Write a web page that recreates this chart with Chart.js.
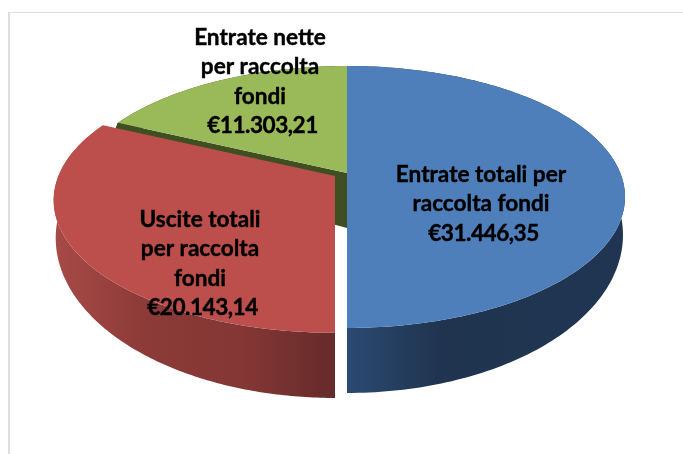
<!DOCTYPE html>
<html>
<head>
<meta charset="utf-8">
<style>
html,body{margin:0;padding:0;background:#fff;}
#wrap{position:absolute;left:0;top:0;width:683px;height:454px;}
</style>
<script src="https://cdn.jsdelivr.net/npm/chart.js@4"></script>
</head>
<body>
<div id="wrap"><canvas id="c" width="683" height="454"></canvas></div>
<script>
const categories = ['Entrate totali per raccolta fondi', 'Uscite totali per raccolta fondi', 'Entrate nette per raccolta fondi'];
const values = [31446.35, 20143.14, 11303.21];
const labelLines = [
  ['Entrate totali per', 'raccolta fondi'],
  ['Uscite totali', 'per raccolta', 'fondi'],
  ['Entrate nette', 'per raccolta', 'fondi']
];
const topColors = ['#4f7fbb', '#bc4f4c', '#9aba59'];
const wallStops = [
  ['#2b4a72', '#20344f', '#1f3550', '#1f3552'],
  ['#a84a47', '#8b3a37', '#843735', '#652b2a'],
  ['#3f4f22', '#3f4f22', '#3f4f22', '#3f4f22']
];

// layout constants of the 3D look: top rim and bottom rim projections
const TOP = { k: 0.183, a: 273.3, b: 126.6, dy: 0 };
const BOTTOM = { k: 0.044, a: 275.7, b: 157.7, dy: 55 };
const OFFSETS = [[0, 0], [-12, 3], [0, 0]]; // exploded slice offset
const SCALES = [1, 1.012, 1];
const LABEL_POS = [[481, 182], [200, 227], [260, 45]];
const LINE_H = 29.3;

function euro(v) {
  const parts = v.toFixed(2).split('.');
  return '€' + parts[0].replace(/\B(?=(\d{3})+$)/g, '.') + ',' + parts[1];
}

const pie3d = {
  id: 'pie3d',
  beforeDatasetsDraw(chart) {
    const ctx = chart.ctx;
    const arcs = chart.getDatasetMeta(0).data;
    const cx = arcs[0].x, cy = arcs[0].y;
    const proj = (a, P, o, s) => {
      const X = Math.cos(a), Y = Math.sin(a), w = 1 - P.k * Y;
      return [cx + o[0] + s * P.a * X / w, cy + P.dy + o[1] + s * P.b * Y / w];
    };
    const rim = (arc, P, o, s) => {
      const pts = [], n = 160;
      for (let i = 0; i <= n; i++) pts.push(proj(arc.startAngle + (arc.endAngle - arc.startAngle) * i / n, P, o, s));
      return pts;
    };
    const fillPts = (pts, style) => {
      ctx.beginPath();
      pts.forEach((p, i) => i ? ctx.lineTo(p[0], p[1]) : ctx.moveTo(p[0], p[1]));
      ctx.closePath();
      ctx.fillStyle = style;
      ctx.fill();
    };
    [2, 0, 1].forEach(i => {
      const arc = arcs[i], o = OFFSETS[i], s = SCALES[i];
      const top = rim(arc, TOP, o, s);
      const bot = rim(arc, BOTTOM, o, s);
      const apex = [cx + o[0], cy + o[1]];
      const apexLow = [cx + o[0], cy + BOTTOM.dy + o[1]];
      const xs = top.map(p => p[0]);
      const g = ctx.createLinearGradient(Math.min(...xs), 0, Math.max(...xs), 0);
      wallStops[i].forEach((c, j) => g.addColorStop(j / (wallStops[i].length - 1), c));
      // outer wall
      fillPts(top.concat(bot.slice().reverse()), g);
      // radial wall seen through the gap (green slice, red side)
      if (i === 2) fillPts([top[0], apex, apexLow, bot[0]], wallStops[2][0]);
      // top face
      fillPts([apex].concat(top), topColors[i]);
    });
    return false;
  },
  afterDraw(chart) {
    const ctx = chart.ctx;
    ctx.save();
    // frame
    ctx.fillStyle = '#dedede';
    ctx.fillRect(8, 12, 675, 1);
    ctx.fillRect(8, 12, 2, 442);
    // labels
    ctx.fillStyle = '#000';
    ctx.strokeStyle = '#000';
    ctx.lineWidth = 0.4;
    ctx.font = 'bold 22.6px Lato';
    ctx.textAlign = 'center';
    ctx.textBaseline = 'alphabetic';
    const put = (t, x, y) => { ctx.fillText(t, x, y); ctx.strokeText(t, x, y); };
    labelLines.forEach((lines, i) => {
      ctx.letterSpacing = '0px';
      lines.forEach((t, j) => put(t, LABEL_POS[i][0], LABEL_POS[i][1] + j * LINE_H));
      ctx.letterSpacing = '-0.5px';
      put(euro(values[i]), LABEL_POS[i][0] + 2.5, LABEL_POS[i][1] + lines.length * LINE_H);
    });
    ctx.restore();
  }
};

new Chart(document.getElementById('c'), {
  type: 'pie',
  data: { labels: categories, datasets: [{ data: values, backgroundColor: topColors, borderWidth: 0 }] },
  options: {
    responsive: false,
    animation: false,
    layout: { padding: { left: 11, right: 0, top: 0, bottom: 108 } },
    plugins: { legend: { display: false }, tooltip: { enabled: false } }
  },
  plugins: [pie3d]
});
</script>
</body>
</html>
